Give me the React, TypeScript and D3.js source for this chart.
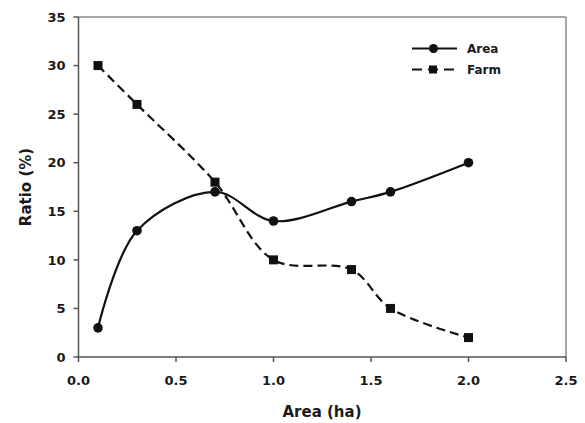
import React from "react";
import * as d3 from "d3";

const xValues = [0.1, 0.3, 0.7, 1.0, 1.4, 1.6, 2.0];
const areaValues = [3, 13, 17, 14, 16, 17, 20];
const farmValues = [30, 26, 18, 10, 9, 5, 2];
const xTicks = [0, 0.5, 1.0, 1.5, 2.0, 2.5];
const yTicks = [0, 5, 10, 15, 20, 25, 30, 35];
const seriesNames = ["Area", "Farm"];

export default function App() {
  const W = 585, H = 423;
  const L = 78.5, R = 566, T = 17, B = 357;
  const x = d3.scaleLinear().domain([0, 2.5]).range([L, R]);
  const y = d3.scaleLinear().domain([0, 35]).range([B, T]);
  const line = d3
    .line<[number, number]>()
    .x((d) => x(d[0]))
    .y((d) => y(d[1]))
    .curve(d3.curveCatmullRom.alpha(0.5));
  const areaPts: [number, number][] = xValues.map((v, i) => [v, areaValues[i]]);
  const farmPts: [number, number][] = xValues.map((v, i) => [v, farmValues[i]]);
  const font = "'DejaVu Sans', Arial, sans-serif";
  const axisCol = "#555";
  const txt = "#1a1a1a";
  return (
    <svg width={W} height={H} style={{ position: "absolute", left: 0, top: 0, background: "#fff" }}>
      <rect x={0} y={0} width={W} height={H} fill="#fff" />
      <line x1={L} y1={T} x2={R} y2={T} stroke="#888" strokeWidth={1.5} />
      <line x1={R} y1={T} x2={R} y2={B} stroke="#888" strokeWidth={1.5} />
      <line x1={L} y1={T} x2={L} y2={B} stroke={axisCol} strokeWidth={1.5} />
      <line x1={L} y1={B} x2={R} y2={B} stroke={axisCol} strokeWidth={1.5} />
      {yTicks.map((t) => (
        <g key={"y" + t}>
          <line x1={L - 5} x2={L} y1={y(t)} y2={y(t)} stroke={axisCol} strokeWidth={1.5} />
          <text x={L - 13} y={y(t)} dy="0.36em" textAnchor="end" fontFamily={font} fontSize={13} fontWeight="bold" fill={txt}>
            {t}
          </text>
        </g>
      ))}
      {xTicks.map((t) => (
        <g key={"x" + t}>
          <line x1={x(t)} x2={x(t)} y1={B} y2={B + 5} stroke={axisCol} strokeWidth={1.5} />
          <text x={x(t)} y={B + 28} textAnchor="middle" fontFamily={font} fontSize={13} fontWeight="bold" fill={txt}>
            {t.toFixed(1)}
          </text>
        </g>
      ))}
      <text x={322} y={417} textAnchor="middle" fontFamily={font} fontSize={15} fontWeight="bold" fill={txt}>
        Area (ha)
      </text>
      <text
        transform={`translate(31,${(T + B) / 2}) rotate(-90)`}
        textAnchor="middle"
        fontFamily={font}
        fontSize={15}
        fontWeight="bold"
        fill={txt}
      >
        Ratio (%)
      </text>
      <path d={line(farmPts) || ""} fill="none" stroke="#111" strokeWidth={2.2} strokeDasharray="9,5" />
      <path d={line(areaPts) || ""} fill="none" stroke="#111" strokeWidth={2.2} />
      {farmPts.map((p, i) => (
        <rect key={"f" + i} x={x(p[0]) - 4.5} y={y(p[1]) - 4.5} width={9} height={9} fill="#111" />
      ))}
      {areaPts.map((p, i) => (
        <circle key={"a" + i} cx={x(p[0])} cy={y(p[1])} r={4.8} fill="#111" />
      ))}
      <g>
        <line x1={412} x2={457} y1={48.5} y2={48.5} stroke="#111" strokeWidth={2.2} />
        <circle cx={433.5} cy={48.5} r={4.5} fill="#111" />
        <text x={467} y={49} dy="0.36em" fontFamily={font} fontSize={12} fontWeight="bold" fill={txt}>
          {seriesNames[0]}
        </text>
        <line x1={412} x2={454} y1={69.5} y2={69.5} stroke="#111" strokeWidth={2.2} strokeDasharray="10,6" />
        <rect x={429} y={65.5} width={8} height={8} fill="#111" />
        <text x={467} y={70} dy="0.36em" fontFamily={font} fontSize={12} fontWeight="bold" fill={txt}>
          {seriesNames[1]}
        </text>
      </g>
    </svg>
  );
}
